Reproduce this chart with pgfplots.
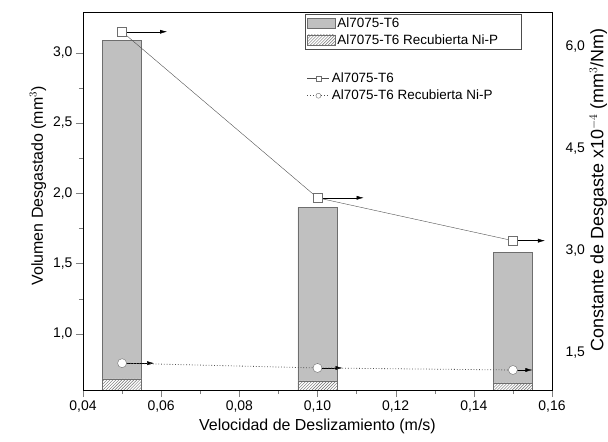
\documentclass[border=0pt]{standalone}
\usepackage{pgfplots}
\pgfplotsset{compat=1.18}
\usepackage{fontspec}
\setmainfont{Liberation Sans}
\usetikzlibrary{patterns,arrows.meta}

\definecolor{barfill}{RGB}{192,192,192}
\definecolor{baredge}{RGB}{110,110,110}
\definecolor{linegray}{RGB}{80,80,80}

% volumen desgastado (mm^3)
\pgfplotstableread{
x    vol
0.05 3.09
0.10 1.90
0.15 1.58
}\volsin
\pgfplotstableread{
x    vol
0.05 0.68
0.10 0.665
0.15 0.65
}\volcon
% constante de desgaste x1e-4, u = largo de la flecha
\pgfplotstableread{
x    k    u
0.05 6.22 0.0115
0.10 3.78 0.0118
0.15 3.15 0.0082
}\ksin
\pgfplotstableread{
x    k    u
0.05 1.35 0.0082
0.10 1.28 0.0064
0.15 1.25 0.0050
}\kcon

\pgfplotsset{
  base/.style={
    scale only axis, width=469bp, height=378bp,
    xmin=0.04, xmax=0.16,
    tick label style={font=\fontsize{14}{16}\selectfont},
    label style={font=\fontsize{16}{18}\selectfont},
    /pgf/number format/assume math mode=true,
    /pgf/number format/use comma,
    legend style={font=\fontsize{13.5}{15}\selectfont, cells={anchor=west}},
  },
}

\begin{document}
\begin{tikzpicture}
\begin{axis}[base, name=ax,
  ymin=0.6, ymax=3.29,
  xtick={0.04,0.06,0.08,0.10,0.12,0.14,0.16},
  ytick={1,1.5,2,2.5,3},
  minor x tick num=1, minor y tick num=1,
  tick align=outside, xtick pos=bottom, ytick pos=left,
  major tick length=7bp, minor tick length=4bp,
  xticklabel style={/pgf/number format/.cd, fixed, fixed zerofill, precision=2},
  yticklabel style={/pgf/number format/.cd, fixed, fixed zerofill, precision=1},
  xlabel={Velocidad de Deslizamiento (m/s)},
  ylabel={Volumen Desgastado (mm$^3$)},
  ylabel style={at={(ticklabel cs:0.54)}},
  ybar, bar width=0.01,
  legend style={at={(0.473,0.995)}, anchor=north west, draw=black!70,
    inner sep=2bp, row sep=1bp},
  legend image code/.code={\draw[#1] (0bp,-5bp) rectangle (28bp,5bp);},
]
\addplot[fill=barfill, draw=baredge, bar shift=0pt, forget plot] table[x=x,y=vol]{\volsin};
\addplot[fill=white, draw=baredge, bar shift=0pt, forget plot,
  postaction={pattern=north east lines, pattern color=baredge}] table[x=x,y=vol]{\volcon};
\addlegendimage{fill=barfill, draw=baredge}
\addlegendentry{\makebox[180bp][l]{Al7075-T6}}
\addlegendimage{fill=white, draw=baredge, postaction={pattern=north east lines, pattern color=baredge}}
\addlegendentry{\makebox[180bp][l]{Al7075-T6 Recubierta Ni-P}}
\end{axis}

\begin{axis}[base,
  ymin=0.956, ymax=6.51,
  axis y line*=right, axis x line=none,
  ytick={1.5,3,4.5,6},
  tick align=outside, major tick length=10bp, ytick style={draw=none},
  yticklabel style={/pgf/number format/.cd, fixed, fixed zerofill, precision=1},
  ylabel={Constante de Desgaste x10$^{-4}$ (mm$^3$/Nm)},
  ylabel style={at={(ticklabel cs:0.53)}, font=\fontsize{18}{20}\selectfont, inner sep=1bp},
  legend style={at={(0.473,0.85)}, anchor=north west, draw=none, fill=none,
    inner sep=2bp, row sep=2bp},
  legend image code/.code={\draw[mark repeat=2, mark phase=2, mark size=2.5bp, #1]
    plot coordinates {(0bp,0bp) (11bp,0bp) (22bp,0bp)};},
]
\addplot[-{Latex[length=7bp,width=4bp]}, black, forget plot,
  quiver={u=\thisrow{u}, v=0}] table[x=x,y=k]{\ksin};
\addplot[-{Latex[length=7bp,width=4bp]}, black, forget plot,
  quiver={u=\thisrow{u}, v=0}] table[x=x,y=k]{\kcon};
\addplot[linegray, thin, mark=square*, mark size=4.5bp,
  mark options={solid, fill=white, draw=baredge}] table[x=x,y=k]{\ksin};
\addlegendentry{Al7075-T6}
\addplot[linegray, thick, dotted, mark=*, mark size=4.5bp,
  mark options={solid, thin, fill=white, draw=baredge}] table[x=x,y=k]{\kcon};
\addlegendentry{Al7075-T6 Recubierta Ni-P}
\end{axis}
\pgfresetboundingbox
\path[use as bounding box] ([shift={(-83bp,-52bp)}]ax.south west) rectangle ([shift={(56bp,12bp)}]ax.north east);
\end{tikzpicture}
\end{document}
